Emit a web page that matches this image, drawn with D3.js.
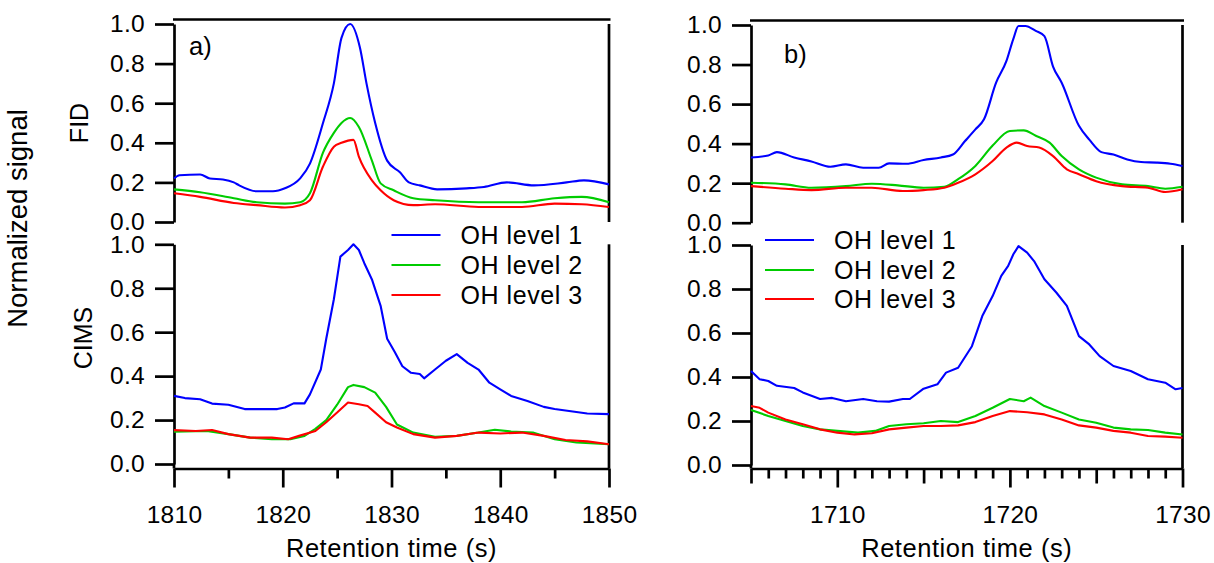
<!DOCTYPE html>
<html>
<head>
<meta charset="utf-8">
<script src="https://cdn.jsdelivr.net/npm/d3@7"></script>
<style>
  body { margin: 0; background: #fff; }
  svg text { font-family: "Liberation Sans", Arial, sans-serif; fill: #000; }
</style>
</head>
<body>
<div class="chart"></div>
<script>
// Series labels / colours
var seriesNames = ["OH level 1", "OH level 2", "OH level 3"];
var seriesColors = ["#0000ff", "#00cc00", "#ff0000"];
var yTicks = [0, 0.2, 0.4, 0.6, 0.8, 1.0];

// a) FID, [retention time (s), normalized signal]
var fidA1 = [[1810,.22],[1810.5,.236],[1812.4,.24],[1813.3,.22],[1814.5,.215],[1815.5,.20],[1816,.185],[1817.6,.155],[1819.1,.155],[1820.2,.17],[1821.6,.22],[1822.5,.295],[1823.7,.50],[1824.7,.70],[1825.4,.93],[1826.2,1.0],[1827.1,.88],[1827.7,.70],[1828.5,.50],[1829.6,.31],[1830.8,.25],[1831.6,.20],[1832.6,.185],[1834.2,.165],[1836.9,.17],[1838.5,.177],[1840.6,.20],[1843.1,.185],[1846.1,.20],[1847.7,.21],[1850,.19]];
var fidA2 = [[1810,.165],[1812.4,.15],[1815.5,.12],[1817.6,.10],[1820.2,.093],[1821.6,.10],[1822.5,.145],[1823.7,.35],[1824.7,.45],[1825.4,.50],[1826.2,.525],[1827,.48],[1828.2,.31],[1829,.195],[1830.2,.16],[1832,.12],[1834,.11],[1838,.10],[1842,.10],[1845,.12],[1847.5,.127],[1850,.10]];
var fidA3 = [[1810,.145],[1812.4,.127],[1815.5,.096],[1817.6,.085],[1820.2,.073],[1821.6,.085],[1822.5,.11],[1823.7,.28],[1824.7,.38],[1825.4,.40],[1826.5,.415],[1827,.33],[1828.2,.21],[1829,.16],[1830.2,.11],[1832,.085],[1834,.09],[1838,.076],[1842,.076],[1845,.093],[1847.5,.09],[1850,.076]];

// a) CIMS
var cimsA1 = [[1810,.31],[1811,.30],[1812.4,.295],[1813.5,.275],[1815,.27],[1816.5,.25],[1818,.25],[1819.5,.25],[1820.2,.257],[1821,.276],[1822,.276],[1822.5,.317],[1823.5,.43],[1824,.57],[1824.7,.75],[1825.3,.944],[1826,.974],[1826.5,1.0],[1827,.974],[1827.5,.914],[1828.2,.84],[1829,.72],[1829.6,.57],[1830.3,.51],[1831,.445],[1831.8,.415],[1832.6,.41],[1833,.39],[1834,.43],[1835,.47],[1836,.50],[1837,.46],[1838,.43],[1839,.37],[1840,.34],[1841,.31],[1842.5,.287],[1844,.26],[1845,.25],[1846.5,.24],[1848,.23],[1850,.227]];
var cimsA2 = [[1810,.147],[1813,.15],[1815,.136],[1817,.12],[1819,.113],[1820.7,.113],[1822,.128],[1823,.16],[1824,.20],[1825,.27],[1826,.35],[1826.5,.36],[1827.5,.35],[1828.5,.325],[1829.5,.26],[1830.5,.18],[1832,.143],[1834,.124],[1836,.128],[1838,.143],[1839.5,.156],[1841,.148],[1843,.143],[1845,.113],[1847,.098],[1850,.09]];
var cimsA3 = [[1810,.154],[1812,.15],[1813.5,.155],[1815,.136],[1817,.12],[1819,.12],[1820.5,.113],[1821.5,.128],[1823,.15],[1824,.19],[1825,.234],[1826,.28],[1827,.272],[1827.8,.264],[1828.5,.234],[1829.5,.19],[1830.5,.166],[1832,.136],[1834,.12],[1836,.128],[1838,.143],[1840,.139],[1842,.143],[1844,.128],[1846,.109],[1848,.103],[1850,.09]];

// b) FID
var fidB1 = [[1705,.33],[1706,.34],[1706.5,.357],[1707.5,.33],[1708.5,.31],[1709.6,.283],[1710.5,.295],[1711.5,.278],[1712.4,.278],[1713,.30],[1714,.298],[1715,.317],[1716,.33],[1716.7,.345],[1717.4,.413],[1718,.472],[1718.5,.523],[1719.2,.708],[1719.8,.818],[1720.2,.93],[1720.5,.995],[1720.9,.995],[1721.5,.97],[1722,.944],[1722.5,.79],[1723,.708],[1724,.49],[1724.6,.42],[1725.3,.357],[1726,.345],[1726.8,.32],[1727.6,.307],[1728.5,.304],[1729.3,.298],[1730,.287]];
var fidB2 = [[1705,.202],[1707,.194],[1708.5,.177],[1710.5,.185],[1712,.197],[1713.5,.189],[1715,.177],[1716.2,.182],[1717,.22],[1718,.287],[1719,.39],[1720,.464],[1720.8,.467],[1721.5,.44],[1722.3,.405],[1723,.337],[1724,.27],[1725,.228],[1726.5,.194],[1728,.185],[1729,.172],[1730,.182]];
var fidB3 = [[1705,.185],[1707,.172],[1708.5,.165],[1710.5,.177],[1712,.177],[1713.8,.16],[1715,.165],[1716.2,.177],[1717,.202],[1718,.245],[1719,.312],[1719.8,.38],[1720.4,.405],[1721,.388],[1721.7,.38],[1722.5,.337],[1723.3,.27],[1724,.245],[1725,.21],[1726.5,.185],[1728,.177],[1729,.155],[1730,.169]];

// b) CIMS
var cimsB1 = [[1705,.427],[1705.5,.39],[1706,.382],[1706.5,.36],[1707.5,.35],[1708,.33],[1709,.30],[1709.7,.305],[1710.5,.29],[1711.5,.30],[1712.3,.29],[1713,.288],[1713.8,.30],[1714.2,.30],[1715,.347],[1715.8,.367],[1716.3,.42],[1717,.442],[1717.8,.54],[1718.4,.677],[1719,.768],[1719.5,.86],[1719.9,.905],[1720.2,.958],[1720.5,.995],[1721,.965],[1721.4,.927],[1722,.844],[1722.7,.783],[1723.3,.723],[1724,.586],[1724.6,.548],[1725.2,.495],[1726,.45],[1727,.427],[1728,.39],[1729,.374],[1729.6,.344],[1730,.35]];
var cimsB2 = [[1705,.25],[1706,.223],[1707,.20],[1708,.177],[1709,.162],[1710,.155],[1711.2,.147],[1712.2,.155],[1713,.177],[1714,.185],[1715,.19],[1716,.20],[1717,.195],[1718,.223],[1719,.26],[1720,.30],[1720.8,.29],[1721.2,.306],[1722,.268],[1723,.238],[1724,.207],[1725,.192],[1726,.17],[1727,.162],[1728,.159],[1729,.147],[1730,.139]];
var cimsB3 = [[1705,.268],[1705.5,.26],[1706,.238],[1707,.207],[1708,.185],[1709,.162],[1710,.147],[1711,.139],[1712,.144],[1713,.162],[1714,.17],[1715,.177],[1716,.177],[1717,.18],[1718,.195],[1719,.223],[1720,.245],[1721,.24],[1722,.23],[1723,.207],[1724,.18],[1725,.17],[1726,.155],[1727,.147],[1728,.132],[1729,.129],[1730,.124]];

var svgWidth = 1214;
var svgHeight = 563;
var axisY = 468.5;

var svg = d3.select(".chart")
  .append("svg")
  .attr("width", svgWidth)
  .attr("height", svgHeight);

// scales
var xA = d3.scaleLinear().domain([1810, 1850]).range([174, 609]);
var xB = d3.scaleLinear().domain([1705, 1730]).range([751, 1182.5]);
var yATop = d3.scaleLinear().domain([0, 1]).range([222, 24]);
var yABot = d3.scaleLinear().domain([0, 1]).range([464, 244.3]);
var yBTop = d3.scaleLinear().domain([0, 1]).range([222.7, 25]);
var yBBot = d3.scaleLinear().domain([0, 1]).range([465, 245]);

function styleAxis(g) {
  g.selectAll("path, line").attr("stroke", "#000").attr("stroke-width", 2.7);
  g.selectAll("text").attr("font-size", "24.5px").attr("fill", "#000")
    .attr("letter-spacing", "0.3px")
    .style("font-family", "'Liberation Sans', Arial, sans-serif");
}

function drawPanel(x, y, series, top) {
  // y axis
  var leftAxis = d3.axisLeft(y).tickValues(yTicks).tickFormat(d3.format(".1f"))
    .tickSize(19).tickPadding(10).tickSizeOuter(0);
  svg.append("g")
    .attr("transform", `translate(${x.range()[0]},0)`)
    .call(leftAxis)
    .call(styleAxis);

  var x0 = x.range()[0], x1 = x.range()[1];
  // right frame line
  svg.append("line")
    .attr("x1", x1).attr("x2", x1)
    .attr("y1", y(1)).attr("y2", top ? y(0) : axisY)
    .attr("stroke", "#000").attr("stroke-width", 2.7);
  if (top) {
    svg.append("line")
      .attr("x1", x0 - 1).attr("x2", x1 + 1.5)
      .attr("y1", y(1) - 4.5).attr("y2", y(1) - 4.5)
      .attr("stroke", "#000").attr("stroke-width", 2.7);
  } else {
    // join y axis down to x axis
    svg.append("line")
      .attr("x1", x0).attr("x2", x0)
      .attr("y1", y(0)).attr("y2", axisY)
      .attr("stroke", "#000").attr("stroke-width", 2.7);
  }

  // FID traces are smooth, CIMS traces are noisy
  var line = d3.line().x(d => x(d[0])).y(d => y(d[1]))
    .curve(top ? d3.curveMonotoneX : d3.curveLinear);
  svg.append("g").selectAll("path")
    .data(series)
    .enter()
    .append("path")
    .attr("d", d => line(d))
    .attr("fill", "none")
    .attr("stroke", (d, i) => seriesColors[i])
    .attr("stroke-width", 2.1)
    .attr("stroke-linejoin", "round");
}

drawPanel(xA, yATop, [fidA1, fidA2, fidA3], true);
drawPanel(xA, yABot, [cimsA1, cimsA2, cimsA3], false);
drawPanel(xB, yBTop, [fidB1, fidB2, fidB3], true);
drawPanel(xB, yBBot, [cimsB1, cimsB2, cimsB3], false);

// x axes
function drawXAxis(x, step, labelStep, midStep) {
  var vals = d3.range(x.domain()[0], x.domain()[1] + 0.001, step);
  var bottomAxis = d3.axisBottom(x).tickValues(vals)
    .tickFormat(d => (d % labelStep === 0 ? d : ""))
    .tickSize(10).tickSizeOuter(0);
  var g = svg.append("g")
    .attr("transform", `translate(0,${axisY})`)
    .call(bottomAxis)
    .call(styleAxis);
  g.selectAll(".tick line").attr("y2", d => d % 10 === 0 ? 19 : (d % midStep === 0 ? 15 : 10));
  g.selectAll(".tick text").attr("y", 54.5).attr("dy", 0);
  svg.append("text")
    .attr("x", (x.range()[0] + x.range()[1]) / 2)
    .attr("y", 557)
    .attr("text-anchor", "middle")
    .attr("font-size", "25.5px")
    .attr("letter-spacing", "0.55px")
    .text("Retention time (s)");
}
drawXAxis(xA, 5, 10, 10);
drawXAxis(xB, 1, 10, 5);

// legends
function drawLegend(lx, ly) {
  var leg = svg.append("g").selectAll("g")
    .data(seriesNames)
    .enter()
    .append("g")
    .attr("transform", (d, i) => `translate(${lx},${ly[i]})`);
  leg.append("line")
    .attr("x1", 0).attr("x2", 49)
    .attr("stroke", (d, i) => seriesColors[i])
    .attr("stroke-width", 2.1);
  leg.append("text")
    .attr("x", 69)
    .attr("dy", "0.36em")
    .attr("font-size", "25px")
    .attr("letter-spacing", "0.55px")
    .text(d => d);
}
drawLegend(391.5, [235, 265, 295]);
drawLegend(765, [240, 270, 299]);

// panel letters
svg.append("text").attr("x", 189).attr("y", 55).attr("font-size", "25.5px").text("a)");
svg.append("text").attr("x", 784).attr("y", 63).attr("font-size", "25.5px").text("b)");

// side labels
svg.append("text")
  .attr("transform", "translate(27,218.5) rotate(-90)")
  .attr("text-anchor", "middle")
  .attr("font-size", "27.5px")
  .text("Normalized signal");
svg.append("text")
  .attr("transform", "translate(88,123) rotate(-90)")
  .attr("text-anchor", "middle")
  .attr("font-size", "25px")
  .text("FID");
svg.append("text")
  .attr("transform", "translate(92,338) rotate(-90)")
  .attr("text-anchor", "middle")
  .attr("font-size", "25px")
  .text("CIMS");
</script>
</body>
</html>
